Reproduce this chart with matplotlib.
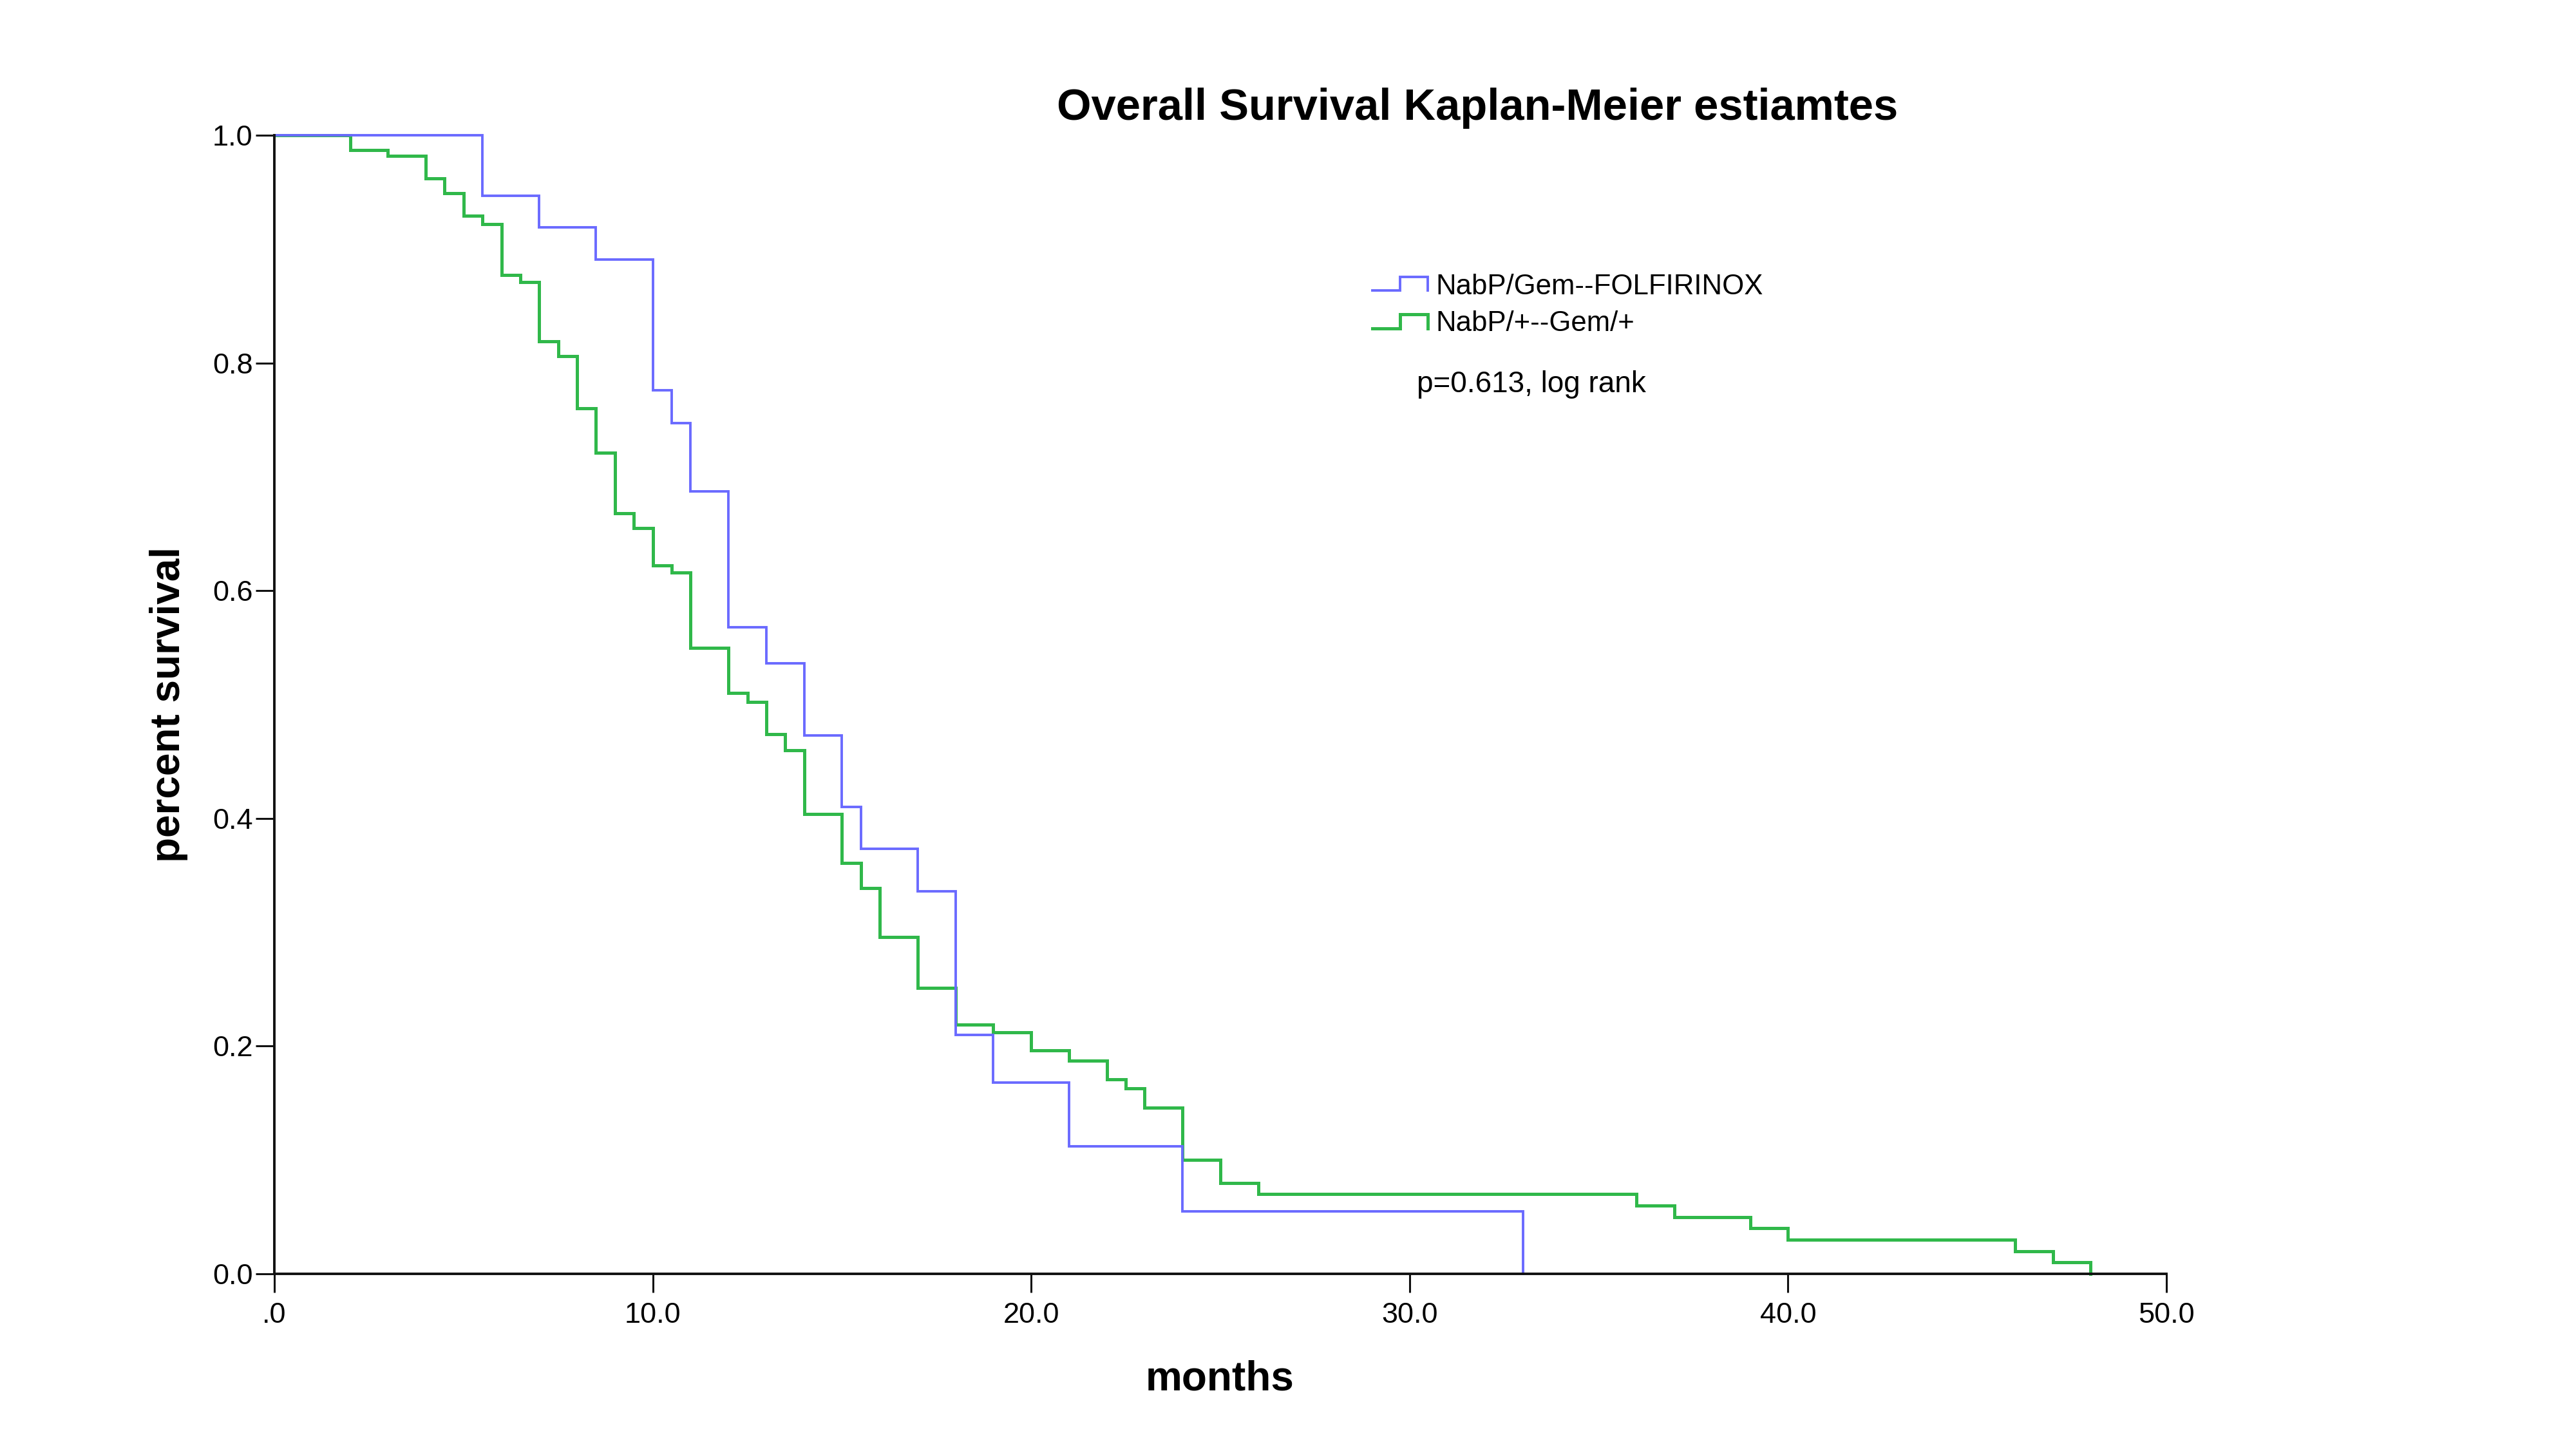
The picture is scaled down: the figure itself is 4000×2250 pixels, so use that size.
import matplotlib
matplotlib.use("Agg")
import matplotlib.pyplot as plt
from matplotlib.lines import Line2D
from matplotlib.ticker import FixedLocator, FuncFormatter

plt.rcParams['font.family'] = ['Liberation Sans', 'DejaVu Sans']

# ---- data ----
title = "Overall Survival Kaplan-Meier estiamtes"
x_label = "months"
y_label = "percent survival"
series_names = ["NabP/Gem--FOLFIRINOX", "NabP/+--Gem/+"]
p_text = "p=0.613, log rank"

times_folf = [0, 5.5, 7, 8.5, 10, 10.5, 11, 12, 13, 14, 15, 15.5, 17, 18, 19, 21, 24, 33]
surv_folf = [1.0, 0.947, 0.919, 0.891, 0.776, 0.747, 0.687, 0.568, 0.536, 0.473,
             0.410, 0.373, 0.336, 0.210, 0.168, 0.112, 0.055, 0.0]

times_gem = [0, 2, 3, 4, 4.5, 5, 5.5, 6, 6.5, 7, 7.5, 8, 8.5, 9, 9.5, 10, 10.5, 11,
             12, 12.5, 13, 13.5, 14, 15, 15.5, 16, 17, 18, 19, 20, 21, 22, 22.5, 23,
             24, 25, 26, 36, 37, 39, 40, 46, 47, 48]
surv_gem = [1.0, 0.987, 0.982, 0.962, 0.949, 0.929, 0.922, 0.877, 0.871, 0.819, 0.806,
            0.760, 0.721, 0.668, 0.655, 0.622, 0.616, 0.550, 0.510, 0.502, 0.474, 0.460,
            0.404, 0.361, 0.339, 0.296, 0.251, 0.219, 0.212, 0.196, 0.187, 0.171, 0.163,
            0.146, 0.100, 0.080, 0.070, 0.060, 0.050, 0.040, 0.030, 0.020, 0.010, 0.0]

x_ticks = [0, 10, 20, 30, 40, 50]
y_ticks = [0.0, 0.2, 0.4, 0.6, 0.8, 1.0]

# ---- style ----
blue = '#6a6aff'
green = '#30b84a'

fig = plt.figure(figsize=(40, 22.5), dpi=100)
ax = fig.add_axes([0.1065, 0.1209, 0.7345, 0.7858])

ax.step(times_gem, surv_gem, where='post', color=green, lw=3.6, clip_on=False,
        solid_joinstyle='miter', zorder=3)
ax.step(times_folf, surv_folf, where='post', color=blue, lw=2.8, clip_on=False,
        solid_joinstyle='miter', zorder=4)

ax.set_xlim(0, 50)
ax.set_ylim(0, 1)
for s in ['top', 'right']:
    ax.spines[s].set_visible(False)
for s in ['left', 'bottom']:
    ax.spines[s].set_linewidth(2.8)
    ax.spines[s].set_color('#111111')
    ax.spines[s].set_zorder(5)

ax.xaxis.set_major_locator(FixedLocator(x_ticks))
ax.yaxis.set_major_locator(FixedLocator(y_ticks))
ax.xaxis.set_major_formatter(FuncFormatter(lambda v, p: ".0" if v == 0 else f"{v:.1f}"))
ax.yaxis.set_major_formatter(FuncFormatter(lambda v, p: f"{v:.1f}"))
ax.tick_params(axis='both', direction='out', length=21, width=2.2, color='#111111',
               labelsize=32.5)
ax.tick_params(axis='x', pad=11)
ax.tick_params(axis='y', pad=3)

fig.text(0.5735, 0.9173, title, ha='center', va='baseline', fontsize=49.5,
         fontweight='bold')
fig.text(0.0655, 0.5138, y_label, ha='center', va='center', rotation=90,
         fontsize=46, fontweight='bold')
fig.text(0.4735, 0.0484, x_label, ha='center', va='center', fontsize=46,
         fontweight='bold')

# ---- legend (manual) ----
W, H = 4000.0, 2250.0
def fx(px):
    return px / W
def fy(py):
    return 1 - py / H

legend_rows = [(series_names[0], blue, 2.8, 451, 430, 445),
               (series_names[1], green, 3.6, 510, 488, 502)]
for name, col, lw, low, high, tc in legend_rows:
    xs = [fx(2131), fx(2174), fx(2174), fx(2217), fx(2217)]
    ys = [fy(low), fy(low), fy(high), fy(high), fy(low)]
    fig.add_artist(Line2D(xs, ys, color=col, lw=lw, transform=fig.transFigure,
                          solid_joinstyle='miter'))
    fig.text(fx(2229), fy(tc), name, ha='left', va='center', fontsize=31.5)

fig.text(fx(2200), fy(597), p_text, ha='left', va='center', fontsize=33)

fig.savefig("out.png", dpi=100, facecolor='white')
